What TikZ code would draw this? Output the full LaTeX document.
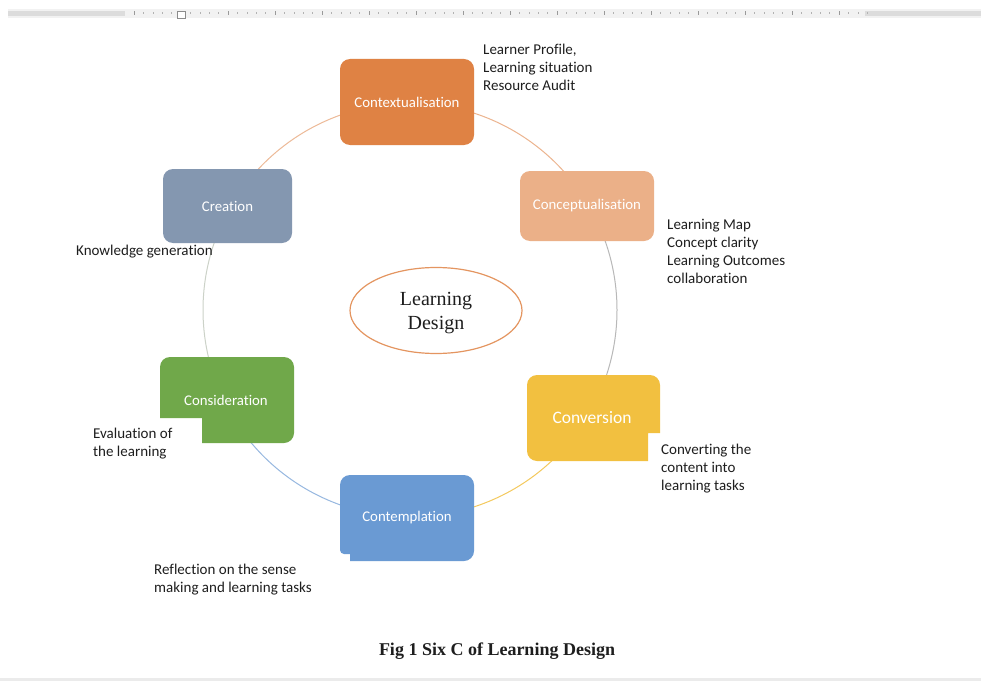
\documentclass[tikz,border=0pt]{standalone}
\usepackage{fontspec}
\setmainfont{Carlito}[Ligatures=NoCommon]
\newfontfamily\serifface{Liberation Serif}
\usetikzlibrary{shapes.geometric}

\definecolor{ctxfill}{HTML}{DF8244}
\definecolor{cptfill}{HTML}{EBB088}
\definecolor{crefill}{HTML}{8497B0}
\definecolor{consfill}{HTML}{70A84A}
\definecolor{convfill}{HTML}{F2C040}
\definecolor{ctmfill}{HTML}{6A9AD3}
\definecolor{inktext}{HTML}{1E1E1E}
\definecolor{rulerband}{HTML}{F2F2F2}
\definecolor{rulerdark}{HTML}{DCDCDC}

\begin{document}
\begin{tikzpicture}[x=1pt,y=1pt,
  stagebox/.style={rounded corners=10pt, inner sep=0pt, text=white,
    font=\fontsize{14.8}{17}\selectfont},
  stagelabel/.style={inner sep=0pt, text=white, font=\fontsize{14.8}{17}\selectfont},
  note/.style={anchor=north west, align=left, inner sep=0pt, text=inktext,
    font=\fontsize{15}{18}\selectfont},
  ring/.style={line width=1pt}
]
\useasboundingbox (0,0) rectangle (981,-682);
\fill[white] (0,0) rectangle (981,-682);

% ruler strip along the top edge
\fill[rulerband] (8,-9) rectangle (981,-18);
\fill[rulerdark] (8,-11) rectangle (125,-16);
\fill[rulerdark] (865,-11) rectangle (981,-16);
\foreach \t in {0,...,78} {
  \draw[black!30, line width=0.4pt] ({134+\t*9.4},-12.5) -- ({134+\t*9.4},-14);
}
\foreach \t in {0,...,15} {
  \draw[black!40, line width=0.5pt] ({134+\t*47},-11.5) -- ({134+\t*47},-15.5);
}
\draw[black!45, fill=white, line width=0.5pt] (177,-11) rectangle (185,-18);

% thin rule along the bottom edge
\fill[black!8] (0,-678) rectangle (981,-681);

% the cycle ring, one coloured arc per step
\coordinate (O) at (410,-310);
\draw[ring, draw=ctxfill!60] (O) ++(90:207) arc[start angle=90, end angle=30, radius=207];
\draw[ring, draw=black!28] (O) ++(30:207) arc[start angle=30, end angle=-30, radius=207];
\draw[ring, draw=convfill!85] (O) ++(-30:207) arc[start angle=-30, end angle=-90, radius=207];
\draw[ring, draw=ctmfill!70] (O) ++(-90:207) arc[start angle=-90, end angle=-150, radius=207];
\draw[ring, draw=consfill!45!black!25] (O) ++(-150:207) arc[start angle=-150, end angle=-210, radius=207];
\draw[ring, draw=ctxfill!55] (O) ++(150:207) arc[start angle=150, end angle=90, radius=207];

% plain rounded stages
\node[stagebox, fill=ctxfill, minimum width=134pt, minimum height=86pt] (ctx) at (407,-102) {Contextualisation};
\node[stagebox, fill=cptfill, minimum width=134pt, minimum height=70pt] (cpt) at (587,-206) {Conceptualisation};
\node[stagebox, fill=crefill, minimum width=129pt, minimum height=74pt] (cre) at (227.5,-206) {Creation};

% Consideration: notch cut from the lower left corner
\fill[consfill] (160,-418) -- (160,-367) arc[start angle=180, end angle=90, radius=10]
  -- (284,-357) arc[start angle=90, end angle=0, radius=10]
  -- (294,-433) arc[start angle=0, end angle=-90, radius=10]
  -- (202,-443) -- (202,-418) -- cycle;
\node[stagelabel] (cons) at (226,-400) {Consideration};

% Conversion: notch cut from the lower right corner
\fill[convfill] (527,-385) arc[start angle=180, end angle=90, radius=10]
  -- (650,-375) arc[start angle=90, end angle=0, radius=10]
  -- (660,-433) -- (648,-433) -- (648,-461)
  -- (537,-461) arc[start angle=270, end angle=180, radius=10] -- cycle;
\node[stagelabel, font=\fontsize{17.5}{20}\selectfont] (conv) at (592,-418) {Conversion};

% Contemplation: small step at the lower left corner
\fill[ctmfill] (340,-485) arc[start angle=180, end angle=90, radius=10]
  -- (464,-475) arc[start angle=90, end angle=0, radius=10]
  -- (474,-551) arc[start angle=0, end angle=-90, radius=10]
  -- (350,-561) -- (350,-554) -- (344,-554)
  arc[start angle=270, end angle=180, radius=4] -- cycle;
\node[stagelabel] (ctm) at (407,-518) {Contemplation};

% centre ellipse with its two-line title
\node[ellipse, draw=ctxfill!85, line width=1.2pt, minimum width=172pt, minimum height=86pt,
  inner sep=0pt,
  label={[yshift=-3pt, align=center, inner sep=0pt, text=inktext,
    font=\serifface\fontsize{20}{24}\selectfont]center:Learning\\Design}]
  (core) at (436,-310.5) {};

% notes beside the stages
\node[note] (ctxnote) at (483,-43.5) {Learner Profile,\\Learning situation\\Resource Audit};
\node[note] (cptnote) at (667,-219) {Learning Map\\Concept clarity\\Learning Outcomes\\collaboration};
\node[note] (crenote) at (76,-245) {Knowledge generation};
\node[note] (consnote) at (93,-427.5) {Evaluation of\\the learning};
\node[note] (convnote) at (661,-443.5) {Converting the\\content into\\learning tasks};
\node[note] (ctmnote) at (154,-563.5) {Reflection on the sense\\making and learning tasks};

% caption
\node[inner sep=0pt, anchor=base, text=inktext, font=\serifface\bfseries\fontsize{18}{22}\selectfont]
  (caption) at (497,-655) {Fig 1 Six C of Learning Design};
\end{tikzpicture}
\end{document}
